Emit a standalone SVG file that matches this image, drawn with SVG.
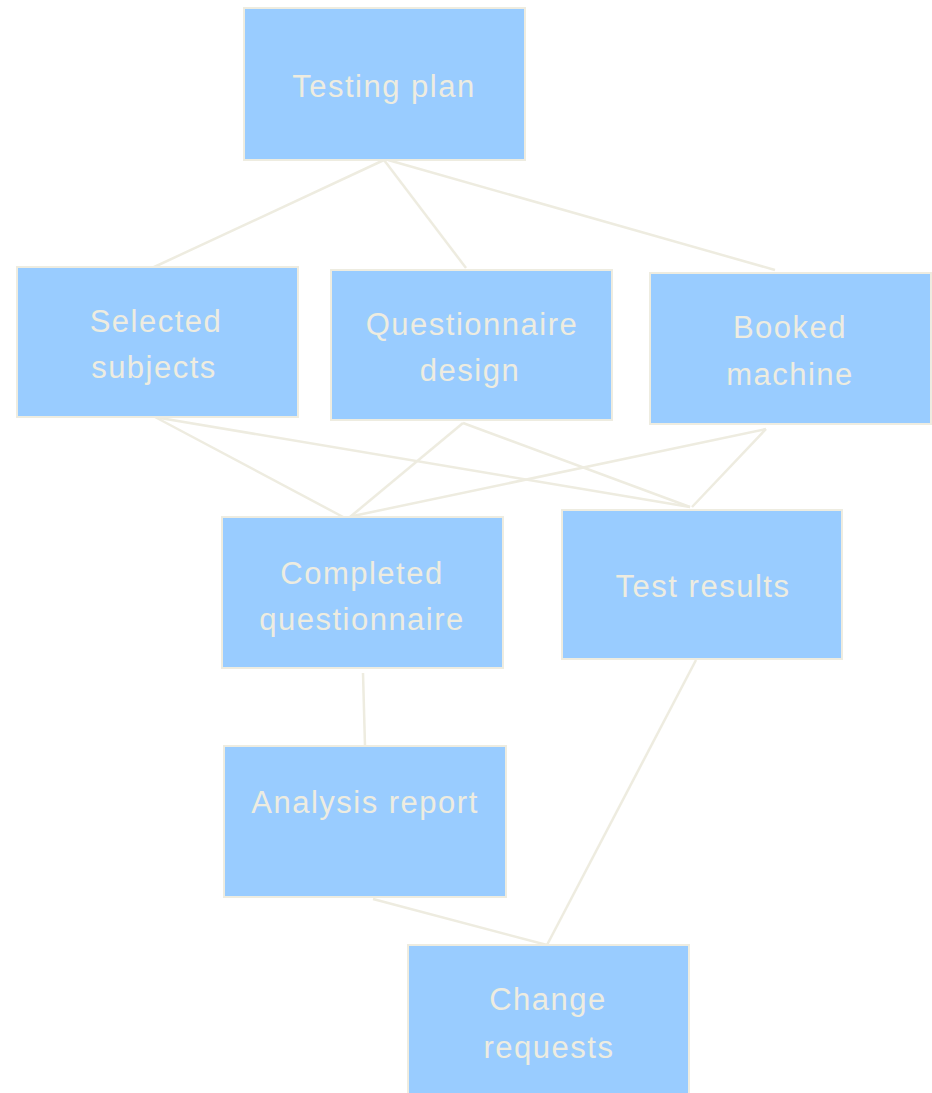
<svg xmlns="http://www.w3.org/2000/svg" width="932" height="1093" viewBox="0 0 932 1093">
<style>
.box{fill:#99ccff;stroke:#eeece0;stroke-width:2}
.lbl{font-family:"Liberation Sans",Arial,sans-serif;font-size:31px;fill:#eeece0;text-anchor:middle;letter-spacing:1.5px}
.edge{stroke:#eeece0;stroke-width:2.5;fill:none}
</style>
<rect width="932" height="1093" fill="#ffffff"/>
<g id="connectors">
<line class="edge" x1="384" y1="160" x2="152" y2="268"/>
<line class="edge" x1="384" y1="160" x2="466" y2="268"/>
<line class="edge" x1="388" y1="160" x2="775" y2="270"/>
<line class="edge" x1="155" y1="417" x2="345" y2="518"/>
<line class="edge" x1="160" y1="418" x2="690" y2="507"/>
<line class="edge" x1="463" y1="423" x2="350" y2="517"/>
<line class="edge" x1="463" y1="423" x2="690" y2="507"/>
<line class="edge" x1="766" y1="429" x2="353" y2="516"/>
<line class="edge" x1="766" y1="429" x2="692" y2="507"/>
<line class="edge" x1="363" y1="673" x2="365" y2="746"/>
<line class="edge" x1="373" y1="899" x2="547" y2="945"/>
<line class="edge" x1="696" y1="660" x2="547" y2="945"/>
</g>
<g id="testing-plan">
<rect class="box" x="244" y="8" width="281" height="152"/>
<text class="lbl" x="384" y="97">Testing plan</text>
</g>
<g id="selected-subjects">
<rect class="box" x="17" y="267" width="281" height="150"/>
<text class="lbl" x="156" y="332">Selected</text>
<text class="lbl" x="154" y="378">subjects</text>
</g>
<g id="questionnaire-design">
<rect class="box" x="331" y="270" width="281" height="150"/>
<text class="lbl" x="472" y="335">Questionnaire</text>
<text class="lbl" x="470" y="381">design</text>
</g>
<g id="booked-machine">
<rect class="box" x="650" y="273" width="281" height="151"/>
<text class="lbl" x="790" y="338">Booked</text>
<text class="lbl" x="790" y="385">machine</text>
</g>
<g id="completed-questionnaire">
<rect class="box" x="222" y="517" width="281" height="151"/>
<text class="lbl" x="362" y="584">Completed</text>
<text class="lbl" x="362" y="630">questionnaire</text>
</g>
<g id="test-results">
<rect class="box" x="562" y="510" width="280" height="149"/>
<text class="lbl" x="703" y="597">Test results</text>
</g>
<g id="analysis-report">
<rect class="box" x="224" y="746" width="282" height="151"/>
<text class="lbl" x="365" y="813">Analysis report</text>
</g>
<g id="change-requests">
<rect class="box" x="408" y="945" width="281" height="152"/>
<text class="lbl" x="548" y="1010">Change</text>
<text class="lbl" x="549" y="1058">requests</text>
</g>
</svg>
